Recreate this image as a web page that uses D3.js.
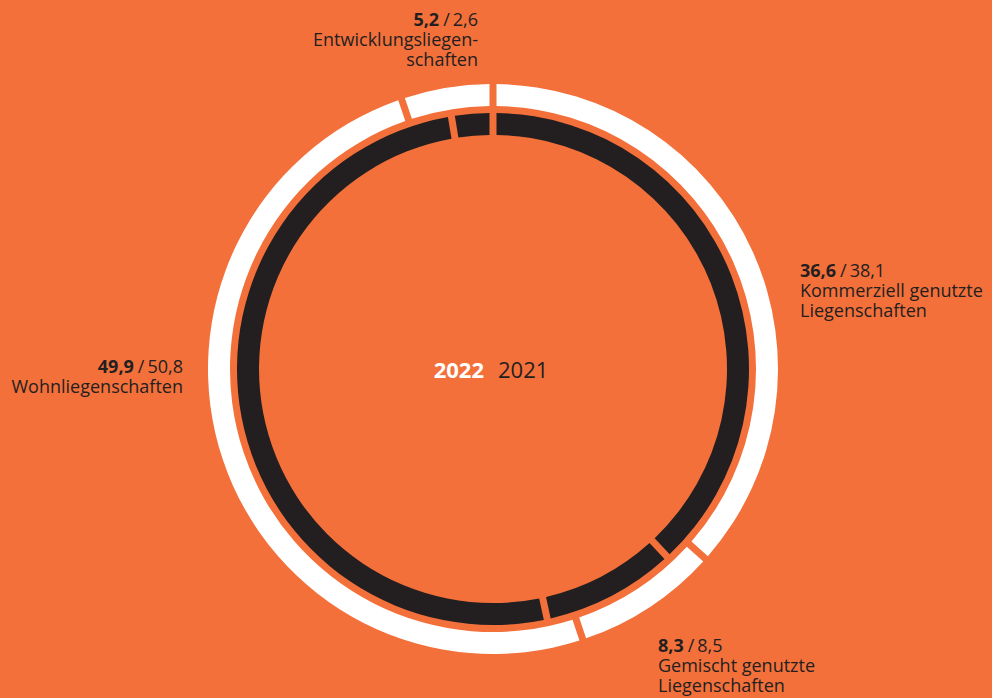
<!DOCTYPE html>
<html>
<head>
<meta charset="utf-8">
<script src="https://cdn.jsdelivr.net/npm/d3@7"></script>
<style>
  html, body { margin: 0; padding: 0; background: #F3703B; }
  svg { display: block; }
  text { font-family: "Open Sans", "Noto Sans", sans-serif; fill: #231F20; }
</style>
</head>
<body>
<svg id="chart" width="992" height="698"></svg>
<script>
// ---- data ----
const categories = ["Kommerziell genutzte Liegenschaften", "Gemischt genutzte Liegenschaften", "Wohnliegenschaften", "Entwicklungsliegenschaften"];
const values2022 = [36.6, 8.3, 49.9, 5.2];
const values2021 = [38.1, 8.5, 50.8, 2.6];
const labelText2022 = ["36,6", "8,3", "49,9", "5,2"];
const labelText2021 = ["38,1", "8,5", "50,8", "2,6"];
const labelLines = [
  ["Kommerziell genutzte", "Liegenschaften"],
  ["Gemischt genutzte", "Liegenschaften"],
  ["Wohnliegenschaften"],
  ["Entwicklungsliegen-", "schaften"]
];
const years = ["2022", "2021"];

// ---- layout ----
const W = 992, H = 698;
const cx = 493, cy = 369;
const bg = "#F3703B", white = "#FFFFFF", dark = "#231F20";

const svg = d3.select("#chart");
svg.append("rect").attr("width", W).attr("height", H).attr("fill", bg);

const g = svg.append("g").attr("transform", `translate(${cx},${cy})`);

const pie = d3.pie().sort(null).value(d => d).startAngle(0).endAngle(2 * Math.PI);

const outerArc = d3.arc().innerRadius(263).outerRadius(285).padAngle(0.07).padRadius(100);
const innerArc = d3.arc().innerRadius(234).outerRadius(256).padAngle(0.07).padRadius(100);

g.selectAll("path.y2022").data(pie(values2022)).join("path")
  .attr("class", "y2022").attr("d", outerArc).attr("fill", white);
g.selectAll("path.y2021").data(pie(values2021)).join("path")
  .attr("class", "y2021").attr("d", innerArc).attr("fill", dark);

// center year labels
const center = svg.append("text").attr("x", cx - 2).attr("y", 378)
  .attr("text-anchor", "middle").attr("font-size", 22);
center.append("tspan").attr("font-weight", 700).style("fill", white).text(years[0]);
center.append("tspan").attr("dx", 14).style("fill", dark).text(years[1]);

// category labels
const labelPos = [
  { x: 800, y: 277, anchor: "start" },
  { x: 658, y: 652, anchor: "start" },
  { x: 183, y: 373, anchor: "end" },
  { x: 478, y: 26, anchor: "end" }
];
const fs = 18, lh = 20;

categories.forEach((c, i) => {
  const p = labelPos[i];
  const t = svg.append("text").attr("x", p.x).attr("y", p.y)
    .attr("text-anchor", p.anchor).attr("font-size", fs);
  const first = t.append("tspan").attr("x", p.x).attr("y", p.y);
  first.append("tspan").attr("font-weight", 700).text(labelText2022[i]);
  first.append("tspan").attr("dx", 4).text("/");
  first.append("tspan").attr("dx", 3).text(labelText2021[i]);
  labelLines[i].forEach((line, j) => {
    t.append("tspan").attr("x", p.x).attr("y", p.y + lh * (j + 1)).text(line);
  });
});
</script>
</body>
</html>
